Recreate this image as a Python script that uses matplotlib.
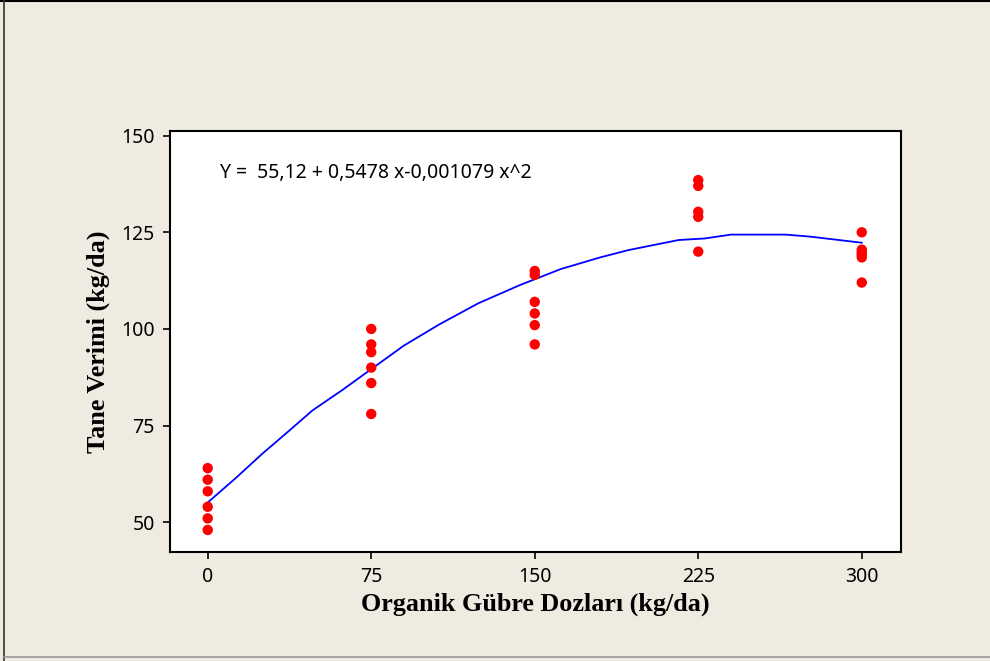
"""Quadratic regression of grain yield against organic fertiliser dose."""

import matplotlib
matplotlib.use("Agg")
import matplotlib.pyplot as plt
from matplotlib.lines import Line2D

dose_0 = [64, 61, 58, 54, 51, 48]
dose_75 = [100, 96, 94, 90, 86, 78]
dose_150 = [115, 114, 107, 104, 101, 96]
dose_225 = [138.5, 137, 130.3, 129, 120]
dose_300 = [125, 120.5, 119.8, 119.2, 118.5, 112]
doses = [0, 75, 150, 225, 300]

# Fitted curve vertices as drawn
fit_x = [0, 13, 25, 37, 48, 62, 75, 90, 106, 124, 143, 162, 180, 193, 216, 228, 240, 265, 276, 300]
fit_y = [55.1, 61.5, 67.7, 73.5, 78.9, 84.3, 89.6, 95.7, 101.1, 106.6, 111.3, 115.5,
         118.5, 120.4, 123.0, 123.4, 124.4, 124.4, 123.9, 122.3]

x_ticks = [0, 75, 150, 225, 300]
y_ticks = [50, 75, 100, 125, 150]
equation = "Y =  55,12 + 0,5478 x-0,001079 x^2"

bg = "#efebe1"
fig = plt.figure(figsize=(9.9, 6.61), dpi=100, facecolor=bg)
ax = fig.add_axes([170 / 990, 1 - 552 / 661, 731 / 990, 421 / 661])
ax.set_facecolor("white")

xs, ys = [], []
for d, vals in zip(doses, [dose_0, dose_75, dose_150, dose_225, dose_300]):
    xs += [d] * len(vals)
    ys += vals
ax.scatter(xs, ys, s=56, color="#ff0000", edgecolors="none", zorder=3)
ax.plot(fit_x, fit_y, color="#0000ff", lw=1.3, zorder=2)

ax.set_xlim(-17.3, 318)
ax.set_ylim(42.3, 151.2)
ax.set_xticks(x_ticks)
ax.set_yticks(y_ticks)
ax.tick_params(direction="out", length=5, width=1.2, labelsize=14, pad=6, colors="black")
for lab in ax.get_xticklabels() + ax.get_yticklabels():
    lab.set_family("Noto Sans")
for sp in ax.spines.values():
    sp.set_linewidth(1.5)

ax.text(0.069, 0.9, equation, transform=ax.transAxes, fontsize=14,
        family="Noto Sans", va="center", ha="left")

ax.set_xlabel("Organik Gübre Dozları (kg/da)", family="Liberation Serif",
              weight="bold", fontsize=18.8, labelpad=4)
ax.set_ylabel("Tane Verimi (kg/da)", family="Liberation Serif",
              weight="bold", fontsize=18.8, labelpad=8)

# outer frame of the exported graph window
fig.add_artist(Line2D([0, 1], [0.999, 0.999], color="black", lw=1.5, transform=fig.transFigure))
fig.add_artist(Line2D([0.004, 0.004], [0, 1], color="#333333", lw=1.2, transform=fig.transFigure))
fig.add_artist(Line2D([0.004, 1], [1 - 657 / 661] * 2, color="#999999", lw=1.2, transform=fig.transFigure))

fig.savefig("out.png", dpi=100, facecolor=bg)
